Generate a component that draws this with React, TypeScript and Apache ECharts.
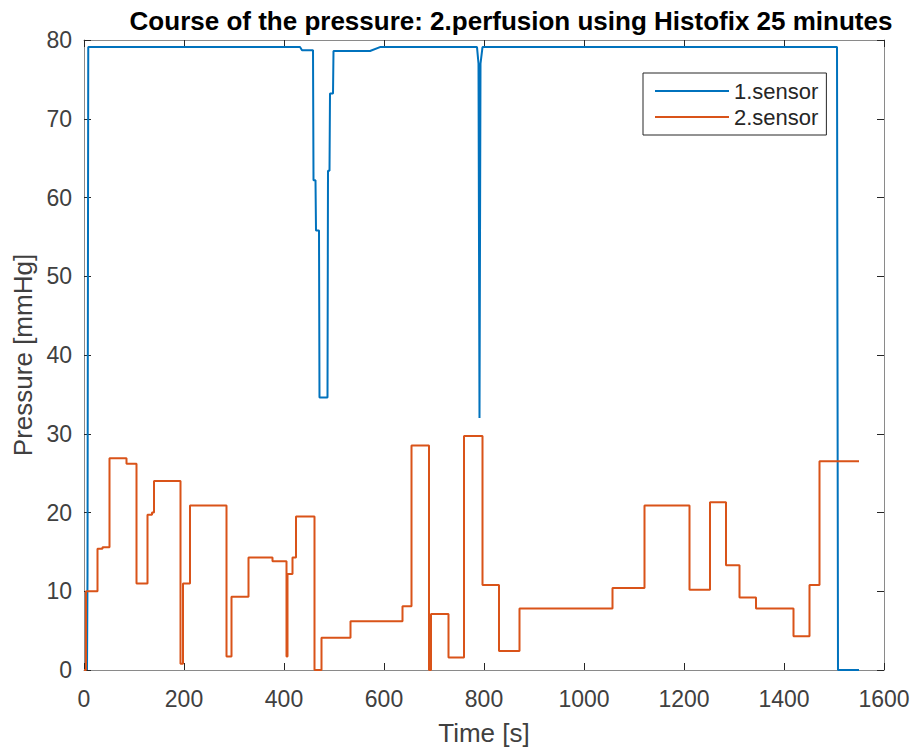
import React, { useEffect, useRef } from "react";
import * as echarts from "echarts";

const titleText = "Course of the pressure: 2.perfusion using Histofix 25 minutes";
const xName = "Time [s]";
const yName = "Pressure [mmHg]";
const seriesNames = ["1.sensor", "2.sensor"];

// 1.sensor: [time s, pressure mmHg]
const sensor1: [number, number][] = [
  [6, 0], [7, 12], [8.5, 79.1], [432, 79.1], [436, 78.7], [458, 78.7],
  [459, 62.2], [463, 62.2], [464, 55.8], [470, 55.8], [471, 34.6], [487, 34.6],
  [488, 63.4], [491, 63.4], [492, 73.2], [498, 73.2], [499, 78.6], [572, 78.6],
  [592, 79.1], [786, 79.1], [789, 77], [791, 32], [793, 77], [797, 79.1],
  [1506, 79.1], [1508, 0], [1550, 0],
];

// 2.sensor: step values [time s, pressure mmHg] (value holds until next time)
const sensor2: [number, number][] = [
  [0, 0], [4, 10], [27, 15.4], [37, 15.6], [51, 26.9], [85, 26.2], [105, 11.0],
  [127, 19.7], [136, 20.0], [140, 24.0], [193, 0.8], [198, 11.0], [212, 20.9],
  [285, 1.7], [295, 9.3], [329, 14.3], [377, 13.8], [405, 1.7], [407, 12.2],
  [417, 14.3], [424, 19.5], [461, 0], [475, 4.1], [533, 6.2], [637, 8.1],
  [655, 28.5], [690, 0], [694, 7.1], [729, 1.6], [760, 29.7], [797, 10.8],
  [830, 2.4], [871, 7.8], [1057, 10.4], [1121, 20.9], [1211, 10.2], [1252, 21.3],
  [1284, 13.3], [1311, 9.2], [1344, 7.8], [1419, 4.3], [1451, 10.8], [1471, 26.5],
  [1550, 26.5],
];

const xMin = 0, xMax = 1600, xStep = 200;
const yMin = 0, yMax = 80, yStep = 10;

const FONT = "Liberation Sans, Arial, Helvetica, sans-serif";
const AXIS_LINE = "#8a8a8a";
const TEXT = "#404040";

export default function App() {
  const ref = useRef<HTMLDivElement>(null);
  useEffect(() => {
    if (!ref.current) return;
    const chart = echarts.init(ref.current, undefined, { renderer: "svg" });
    const axisCommon = {
      type: "value",
      axisLine: { show: true, onZero: false, lineStyle: { color: AXIS_LINE, width: 1 } },
      axisTick: { show: true, inside: true, length: 7, lineStyle: { color: "#262626", width: 1 } },
      splitLine: { show: false },
    };
    chart.setOption({
      animation: false,
      backgroundColor: "#ffffff",
      title: {
        text: titleText,
        left: 506,
        top: 3,
        textAlign: "center",
        textStyle: { fontFamily: FONT, fontSize: 26, fontWeight: "bold", color: "#000" },
      },
      legend: {
        orient: "vertical",
        left: 643,
        top: 73,
        data: seriesNames,
        icon: "rect",
        itemWidth: 74,
        itemHeight: 2,
        itemGap: 4,
        padding: [7, 8, 7, 12],
        borderColor: "#262626",
        borderWidth: 1,
        backgroundColor: "#fff",
        textStyle: { fontFamily: FONT, fontSize: 22, color: "#262626" },
      },
      grid: { left: 84, right: 30, top: 40, bottom: 80, containLabel: false },
      xAxis: [
        {
          ...axisCommon,
          min: xMin, max: xMax, interval: xStep,
          name: xName,
          nameLocation: "middle",
          nameGap: 50,
          nameTextStyle: { fontFamily: FONT, fontSize: 26, color: TEXT },
          axisLabel: {
            fontFamily: FONT, fontSize: 23, color: TEXT, margin: 17,
            formatter: (v: number) => String(v),
          },
        },
        {
          ...axisCommon,
          position: "top",
          min: xMin, max: xMax, interval: xStep,
          axisLabel: { show: false },
        },
      ],
      yAxis: [
        {
          ...axisCommon,
          min: yMin, max: yMax, interval: yStep,
          name: yName,
          nameLocation: "middle",
          nameGap: 44,
          nameTextStyle: { fontFamily: FONT, fontSize: 26, color: TEXT },
          axisLabel: {
            fontFamily: FONT, fontSize: 23, color: TEXT, margin: 12,
            formatter: (v: number) => String(v),
          },
        },
        {
          ...axisCommon,
          position: "right",
          min: yMin, max: yMax, interval: yStep,
          axisLabel: { show: false },
        },
      ],
      series: [
        {
          name: seriesNames[0],
          type: "line",
          data: sensor1,
          showSymbol: false,
          symbol: "none",
          lineStyle: { color: "#0072BD", width: 2 },
          itemStyle: { color: "#0072BD" },
          z: 2,
        },
        {
          name: seriesNames[1],
          type: "line",
          step: "end",
          data: sensor2,
          showSymbol: false,
          symbol: "none",
          lineStyle: { color: "#D95319", width: 2 },
          itemStyle: { color: "#D95319" },
          z: 3,
        },
      ],
    });
    return () => chart.dispose();
  }, []);
  return (
    <div
      ref={ref}
      style={{ position: "absolute", left: 0, top: 0, width: 914, height: 751 }}
    />
  );
}
